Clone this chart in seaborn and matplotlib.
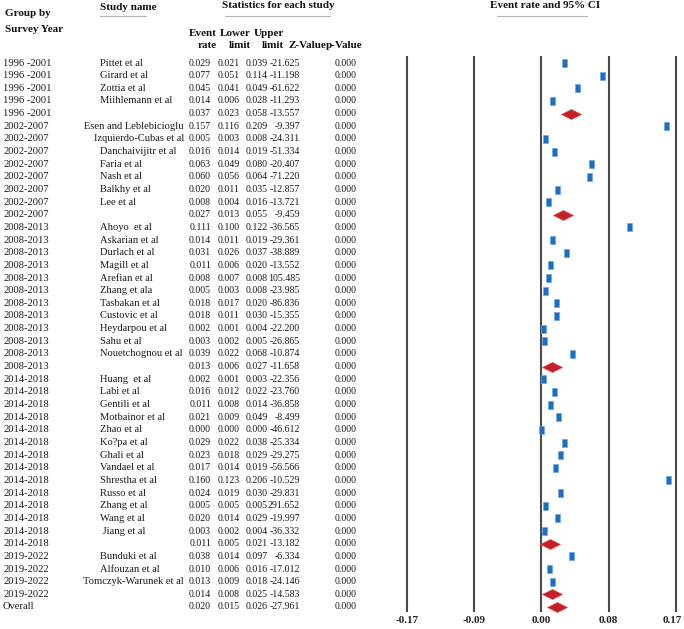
import matplotlib
matplotlib.use("Agg")
import matplotlib.pyplot as plt
import matplotlib.transforms as mtransforms
from matplotlib.lines import Line2D
from matplotlib.markers import MarkerStyle
from matplotlib.path import Path
import pandas as pd
import seaborn as sns

# Table data, one entry per row (empty name = subgroup summary row)
groups = ["1996 -2001"] * 5 + ["2002-2007"] * 8 + ["2008-2013"] * 12 + \
         ["2014-2018"] * 14 + ["2019-2022"] * 4 + ["Overall"]
names = ["Pittet et al", "Girard et al", "Zottia et al", "Miihlemann et al", "",
         "Esen and Leblebicioglu", "Izquierdo-Cubas et al", "Danchaivijitr et al",
         "Faria et al", "Nash et al", "Balkhy et al", "Lee et al", "",
         "Ahoyo  et al", "Askarian et al", "Durlach et al", "Magill et al",
         "Arefian et al", "Zhang et ala", "Tasbakan et al", "Custovic et al",
         "Heydarpou et al", "Sahu et al", "Nouetchognou et al", "",
         "Huang  et al", "Labi et al", "Gentili et al", "Motbainor et al",
         "Zhao et al", "Ko?pa et al", "Ghali et al", "Vandael et al",
         "Shrestha et al", "Russo et al", "Zhang et al", "Wang et al",
         " Jiang et al", "",
         "Bunduki et al", "Alfouzan et al", "Tomczyk-Warunek et al", "",
         ""]
rates = [0.029, 0.077, 0.045, 0.014, 0.037,
         0.157, 0.005, 0.016, 0.063, 0.060, 0.020, 0.008, 0.027,
         0.111, 0.014, 0.031, 0.011, 0.008, 0.005, 0.018, 0.018, 0.002, 0.003, 0.039, 0.013,
         0.002, 0.016, 0.011, 0.021, 0.000, 0.029, 0.023, 0.017, 0.160, 0.024, 0.005, 0.020, 0.003, 0.011,
         0.038, 0.010, 0.013, 0.014,
         0.020]
lowers = [0.021, 0.051, 0.041, 0.006, 0.023,
          0.116, 0.003, 0.014, 0.049, 0.056, 0.011, 0.004, 0.013,
          0.100, 0.011, 0.026, 0.006, 0.007, 0.003, 0.017, 0.011, 0.001, 0.002, 0.022, 0.006,
          0.001, 0.012, 0.008, 0.009, 0.000, 0.022, 0.018, 0.014, 0.123, 0.019, 0.005, 0.014, 0.002, 0.005,
          0.014, 0.006, 0.009, 0.008,
          0.015]
uppers = [0.039, 0.114, 0.049, 0.028, 0.058,
          0.209, 0.008, 0.019, 0.080, 0.064, 0.035, 0.016, 0.055,
          0.122, 0.019, 0.037, 0.020, 0.008, 0.008, 0.020, 0.030, 0.004, 0.005, 0.068, 0.027,
          0.003, 0.022, 0.014, 0.049, 0.000, 0.038, 0.029, 0.019, 0.206, 0.030, 0.005, 0.029, 0.004, 0.021,
          0.097, 0.016, 0.018, 0.025,
          0.026]
zvals = ["-21.625", "-11.198", "-61.622", "-11.293", "-13.557",
         "-9.397", "-24.311", "-51.334", "-20.407", "-71.220", "-12.857", "-13.721", "-9.459",
         "-36.565", "-29.361", "-38.889", "-13.552", "105.485", "-23.985", "-86.836",
         "-15.355", "-22.200", "-26.865", "-10.874", "-11.658",
         "-22.356", "-23.760", "-36.858", "-8.499", "-46.612", "-25.334", "-29.275",
         "-56.566", "-10.529", "-29.831", "291.652", "-19.997", "-36.332", "-13.182",
         "-6.334", "-17.012", "-24.146", "-14.583",
         "-27.961"]
pvals = [0.000] * 44

tick_vals = [-0.17, -0.085, 0.0, 0.085, 0.17]
tick_labels = ["-0.17", "-0.09", "0.00", "0.08", "0.17"]

sns.set_theme(style="white")
plt.rcParams["font.family"] = ["Liberation Serif", "DejaVu Serif"]

W, H = 684, 629
ROW0, STEP = 63, 12.65   # pixel y of first row, row spacing

df = pd.DataFrame({"group": groups, "name": names, "rate": rates,
                   "lower": lowers, "upper": uppers, "z": zvals, "p": pvals})
df["row"] = range(1, len(df) + 1)
df["summary"] = df["name"] == ""

fig = plt.figure(figsize=(W / 100, H / 100), dpi=100)
ax = fig.add_axes([400 / W, 1 - 612 / H, 282 / W, 556 / H])
ax.set_xlim(-0.1785, 0.1776)
ax.set_ylim(1 + (612 - ROW0) / STEP, 1 - (ROW0 - 56) / STEP)

for v in tick_vals:
    ax.axvline(v, color="#4a4a4a", lw=1.5, zorder=1)

rect = MarkerStyle(Path([(-0.6, -1), (0.6, -1), (0.6, 1), (-0.6, 1), (-0.6, -1)]))
diamond = MarkerStyle(Path([(-1, 0), (0, 0.5), (1, 0), (0, -0.5), (-1, 0)]))

sns.scatterplot(data=df[~df["summary"]], x="rate", y="row", marker=rect, s=36,
                color="#1a6fc4", edgecolor="#6aa8e4", linewidth=0.5, ax=ax, zorder=3)
sns.scatterplot(data=df[df["summary"]], x="rate", y="row", marker=diamond, s=210,
                color="#c62027", edgecolor="#d65050", linewidth=0.4, ax=ax, zorder=3)

ax.set_xticks(tick_vals)
ax.set_xticklabels(tick_labels, fontweight="bold", fontsize=8)
ax.set_yticks([])
ax.set_xlabel("")
ax.set_ylabel("")
ax.tick_params(axis="x", length=0, pad=3, colors="#222222")
for s in ax.spines.values():
    s.set_visible(False)
last = ax.get_xticklabels()[-1]
last.set_transform(last.get_transform() +
                   mtransforms.ScaledTranslation(-0.04, 0, fig.dpi_scale_trans))

# table columns
trans = mtransforms.blended_transform_factory(fig.transFigure, ax.transData)
renderer = fig.canvas.get_renderer()
fs = 7.6
fs_num = 7.1
txt = "#1a1a1a"
for _, r in df.iterrows():
    ax.text(3 / W, r["row"], r["group"], transform=trans, ha="left", va="center",
            fontsize=fs, color=txt)
    if r["name"]:
        t = ax.text(100 / W, r["row"], r["name"], transform=trans, ha="left",
                    va="center", fontsize=fs, color=txt)
        if t.get_window_extent(renderer).x1 > 184:
            t.set_x(184 / W)
            t.set_ha("right")
    for xr, val in [(211, f"{r['rate']:.3f}"), (240, f"{r['lower']:.3f}"),
                    (268, f"{r['upper']:.3f}"), (300, r["z"]), (357, f"{r['p']:.3f}")]:
        ax.text(xr / W, r["row"], val, transform=trans, ha="right", va="center",
                fontsize=fs_num, color=txt)


def head(x, y, s, ha="left"):
    fig.text(x / W, 1 - y / H, s, ha=ha, va="center", fontsize=8,
             fontweight="bold", color="#111111")


def uline(x0, x1, y):
    fig.add_artist(Line2D([x0 / W, x1 / W], [1 - y / H] * 2, color="#b0b0b0", lw=0.8))


head(5, 14, "Group by")
head(5, 29, "Survey Year")
head(100, 8, "Study name")
uline(100, 146, 16)
head(278, 6, "Statistics for each study", ha="center")
uline(225, 330, 16)
head(545, 6, "Event rate and 95% CI", ha="center")
uline(497, 587, 16)
head(217, 34, "Event", ha="right")
head(217, 45, "rate", ha="right")
head(251, 34, "Lower", ha="right")
head(251, 45, "limit", ha="right")
head(284, 34, "Upper", ha="right")
head(284, 45, "limit", ha="right")
head(326, 45, "Z-Value", ha="right")
head(326, 45, "p-Value", ha="left")

fig.savefig("out.png", dpi=100)
